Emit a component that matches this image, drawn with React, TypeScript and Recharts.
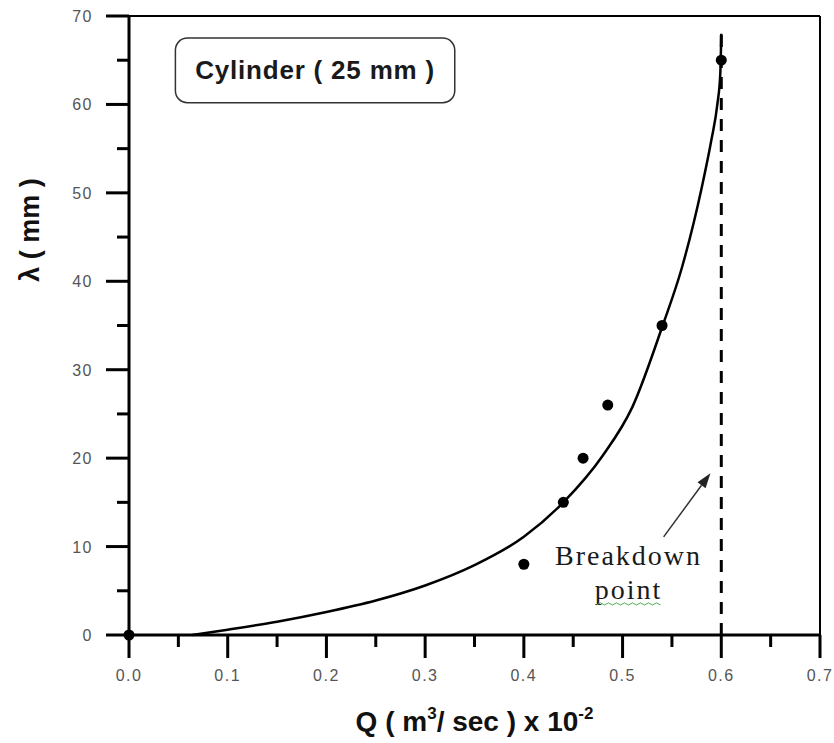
import {
  ComposedChart,
  Line,
  Scatter,
  XAxis,
  YAxis,
  ReferenceLine,
  ReferenceArea,
  ReferenceDot,
} from "recharts"

// measured points
const pointQ = [0, 0.4, 0.44, 0.46, 0.485, 0.54, 0.6]
const pointLambda = [0, 8, 15, 20, 26, 35, 65]

// fitted curve, read along its length
const curveQ = [0.064, 0.1, 0.15, 0.2, 0.25, 0.3, 0.35, 0.4, 0.44, 0.48, 0.51, 0.54, 0.56, 0.58, 0.59, 0.596, 0.599, 0.6]
const curveLambda = [0, 0.6, 1.5, 2.6, 3.9, 5.6, 7.9, 11.1, 15.0, 20.3, 25.8, 34.8, 41.5, 50.5, 56.0, 60.0, 63.5, 68.0]

const xTicks = [0, 0.05, 0.1, 0.15, 0.2, 0.25, 0.3, 0.35, 0.4, 0.45, 0.5, 0.55, 0.6, 0.65, 0.7]
const yTicks = [0, 5, 10, 15, 20, 25, 30, 35, 40, 45, 50, 55, 60, 65, 70]

const breakdownQ = 0.6
const breakdownTop = 68

const points = pointQ.map((q, i) => ({ q, lambda: pointLambda[i] }))
const curve = curveQ.map((q, i) => ({ q, lambda: curveLambda[i] }))

const sans = "'Liberation Sans', Arial, sans-serif"
const serif = "'Liberation Serif', 'Times New Roman', serif"

const W = 834
const H = 743
const MARGIN = { top: 16, right: 14, bottom: 0, left: 0 }
const Y_AXIS_W = 129
const X_AXIS_H = 108

// plot box implied by the margins and axis sizes above
const plot = {
  left: MARGIN.left + Y_AXIS_W,
  right: W - MARGIN.right,
  top: MARGIN.top,
  bottom: H - MARGIN.bottom - X_AXIS_H,
}

const MAJOR = 23
const MINOR = 12

const isMajorX = (v: number) => Math.abs(v * 10 - Math.round(v * 10)) < 1e-6
const isMajorY = (v: number) => v % 10 === 0

const XTick = (props: any) => {
  const { x, y, payload } = props
  const v = payload.value as number
  if (!isMajorX(v)) return <g />
  return (
    <text x={x} y={y + 46} textAnchor="middle" fontSize={16} letterSpacing={1.5} fill="#555" fontFamily={sans}>
      {v.toFixed(1)}
    </text>
  )
}

const YTick = (props: any) => {
  const { x, y, payload } = props
  const v = payload.value as number
  if (!isMajorY(v)) return <g />
  return (
    <text x={x - 36} y={y + 6} textAnchor="end" fontSize={16} letterSpacing={1.5} fill="#555" fontFamily={sans}>
      {String(v)}
    </text>
  )
}

const Dot = (p: any) => <circle cx={p.cx} cy={p.cy} r={5.5} fill="#000" />

const LegendBox = (p: any) => (
  <g>
    <rect x={p.x} y={p.y} width={p.width} height={p.height} rx={12} fill="#fff" stroke="#333" strokeWidth={1.5} />
    <text
      x={p.x + p.width / 2}
      y={p.y + p.height / 2 + 9}
      textAnchor="middle"
      fontSize={26}
      fontWeight="bold"
      letterSpacing={0.8}
      fill="#1a1a1a"
      fontFamily={sans}
    >
      Cylinder ( 25 mm )
    </text>
  </g>
)

const Arrow = (p: any) => {
  const { x1, y1, x2, y2 } = p
  const ang = Math.atan2(y2 - y1, x2 - x1)
  const len = 15
  const half = 5
  const bx = x2 - len * Math.cos(ang)
  const by = y2 - len * Math.sin(ang)
  const px = -Math.sin(ang) * half
  const py = Math.cos(ang) * half
  return (
    <g>
      <line x1={x1} y1={y1} x2={bx} y2={by} stroke="#333" strokeWidth={1.5} />
      <polygon points={`${x2},${y2} ${bx + px},${by + py} ${bx - px},${by - py}`} fill="#222" />
    </g>
  )
}

const BreakdownText = (p: any) => (
  <text x={p.cx} y={p.cy + 9} textAnchor="middle" fontSize={28} letterSpacing={2} fill="#1a1a1a" fontFamily={serif}>
    Breakdown
  </text>
)

const PointText = (p: any) => {
  const w = 64
  const base = p.cy + 9
  let d = `M ${p.cx - w / 2} ${base + 6}`
  for (let i = 1; i <= 16; i++) {
    d += ` L ${p.cx - w / 2 + i * 4} ${base + (i % 2 ? 4 : 6)}`
  }
  return (
    <g>
      <text x={p.cx} y={base} textAnchor="middle" fontSize={28} letterSpacing={2} fill="#1a1a1a" fontFamily={serif}>
        point
      </text>
      <path d={d} fill="none" stroke="#4caf50" strokeWidth={1} />
    </g>
  )
}

// outward tick marks and axis titles, laid over the chart
const Overlay = () => {
  const sx = (v: number) => plot.left + (v / 0.7) * (plot.right - plot.left)
  const sy = (v: number) => plot.bottom - (v / 70) * (plot.bottom - plot.top)
  return (
    <svg width={W} height={H} style={{ position: "absolute", left: 0, top: 0, pointerEvents: "none" }}>
      {xTicks.map((v) => (
        <rect
          key={`x${v}`}
          x={sx(v) - 1.5}
          y={plot.bottom}
          width={3}
          height={isMajorX(v) ? MAJOR : MINOR}
          fill="#000"
        />
      ))}
      {yTicks.map((v) => {
        const len = isMajorY(v) ? MAJOR : MINOR
        return <rect key={`y${v}`} x={plot.left - len} y={sy(v) - 1.5} width={len} height={3} fill="#000" />
      })}
      <text x={(plot.left + plot.right) / 2} y={731} textAnchor="middle" fontSize={28} fontWeight="bold" fill="#111" fontFamily={sans}>
        Q ( m<tspan dy={-12} fontSize={17}>3</tspan>
        <tspan dy={12}>/ sec ) x 10</tspan>
        <tspan dy={-12} fontSize={17}>-2</tspan>
      </text>
      <text
        x={30}
        y={230}
        transform="rotate(-90 30 230)"
        textAnchor="middle"
        dominantBaseline="central"
        fontSize={27}
        fontWeight="bold"
        fill="#111"
        fontFamily={sans}
      >
        λ ( mm )
      </text>
    </svg>
  )
}

export default function App() {
  return (
    <div style={{ position: "relative", width: W, height: H }}>
      <style>{"body{margin:0;background:#fff}"}</style>
      <ComposedChart width={W} height={H} margin={MARGIN}>
        <XAxis
          dataKey="q"
          type="number"
          domain={[0, 0.7]}
          ticks={xTicks}
          interval={0}
          height={X_AXIS_H}
          tickSize={0}
          tickMargin={0}
          tickLine={false}
          tick={<XTick />}
          axisLine={{ stroke: "#000", strokeWidth: 3 }}
        />
        <YAxis
          type="number"
          domain={[0, 70]}
          ticks={yTicks}
          interval={0}
          width={Y_AXIS_W}
          tickSize={0}
          tickMargin={0}
          tickLine={false}
          tick={<YTick />}
          axisLine={{ stroke: "#000", strokeWidth: 3 }}
        />
        <ReferenceLine y={70} stroke="#000" strokeWidth={2} />
        <ReferenceLine x={0.7} stroke="#000" strokeWidth={2} />
        <ReferenceArea x1={0.047} x2={0.33} y1={60.2} y2={67.5} shape={<LegendBox />} />
        <ReferenceLine
          segment={[
            { x: breakdownQ, y: 0 },
            { x: breakdownQ, y: breakdownTop },
          ]}
          stroke="#000"
          strokeWidth={3}
          strokeDasharray="12 9"
        />
        <ReferenceLine
          segment={[
            { x: 0.5416, y: 11.1 },
            { x: 0.589, y: 18.3 },
          ]}
          shape={<Arrow />}
        />
        <ReferenceDot x={0.506} y={8.9} r={0} shape={<BreakdownText />} />
        <ReferenceDot x={0.506} y={5.1} r={0} shape={<PointText />} />
        <Line
          data={curve}
          dataKey="lambda"
          type="monotone"
          stroke="#000"
          strokeWidth={2.5}
          dot={false}
          activeDot={false}
          isAnimationActive={false}
        />
        <Scatter data={points} dataKey="lambda" shape={<Dot />} isAnimationActive={false} />
      </ComposedChart>
      <Overlay />
    </div>
  )
}
